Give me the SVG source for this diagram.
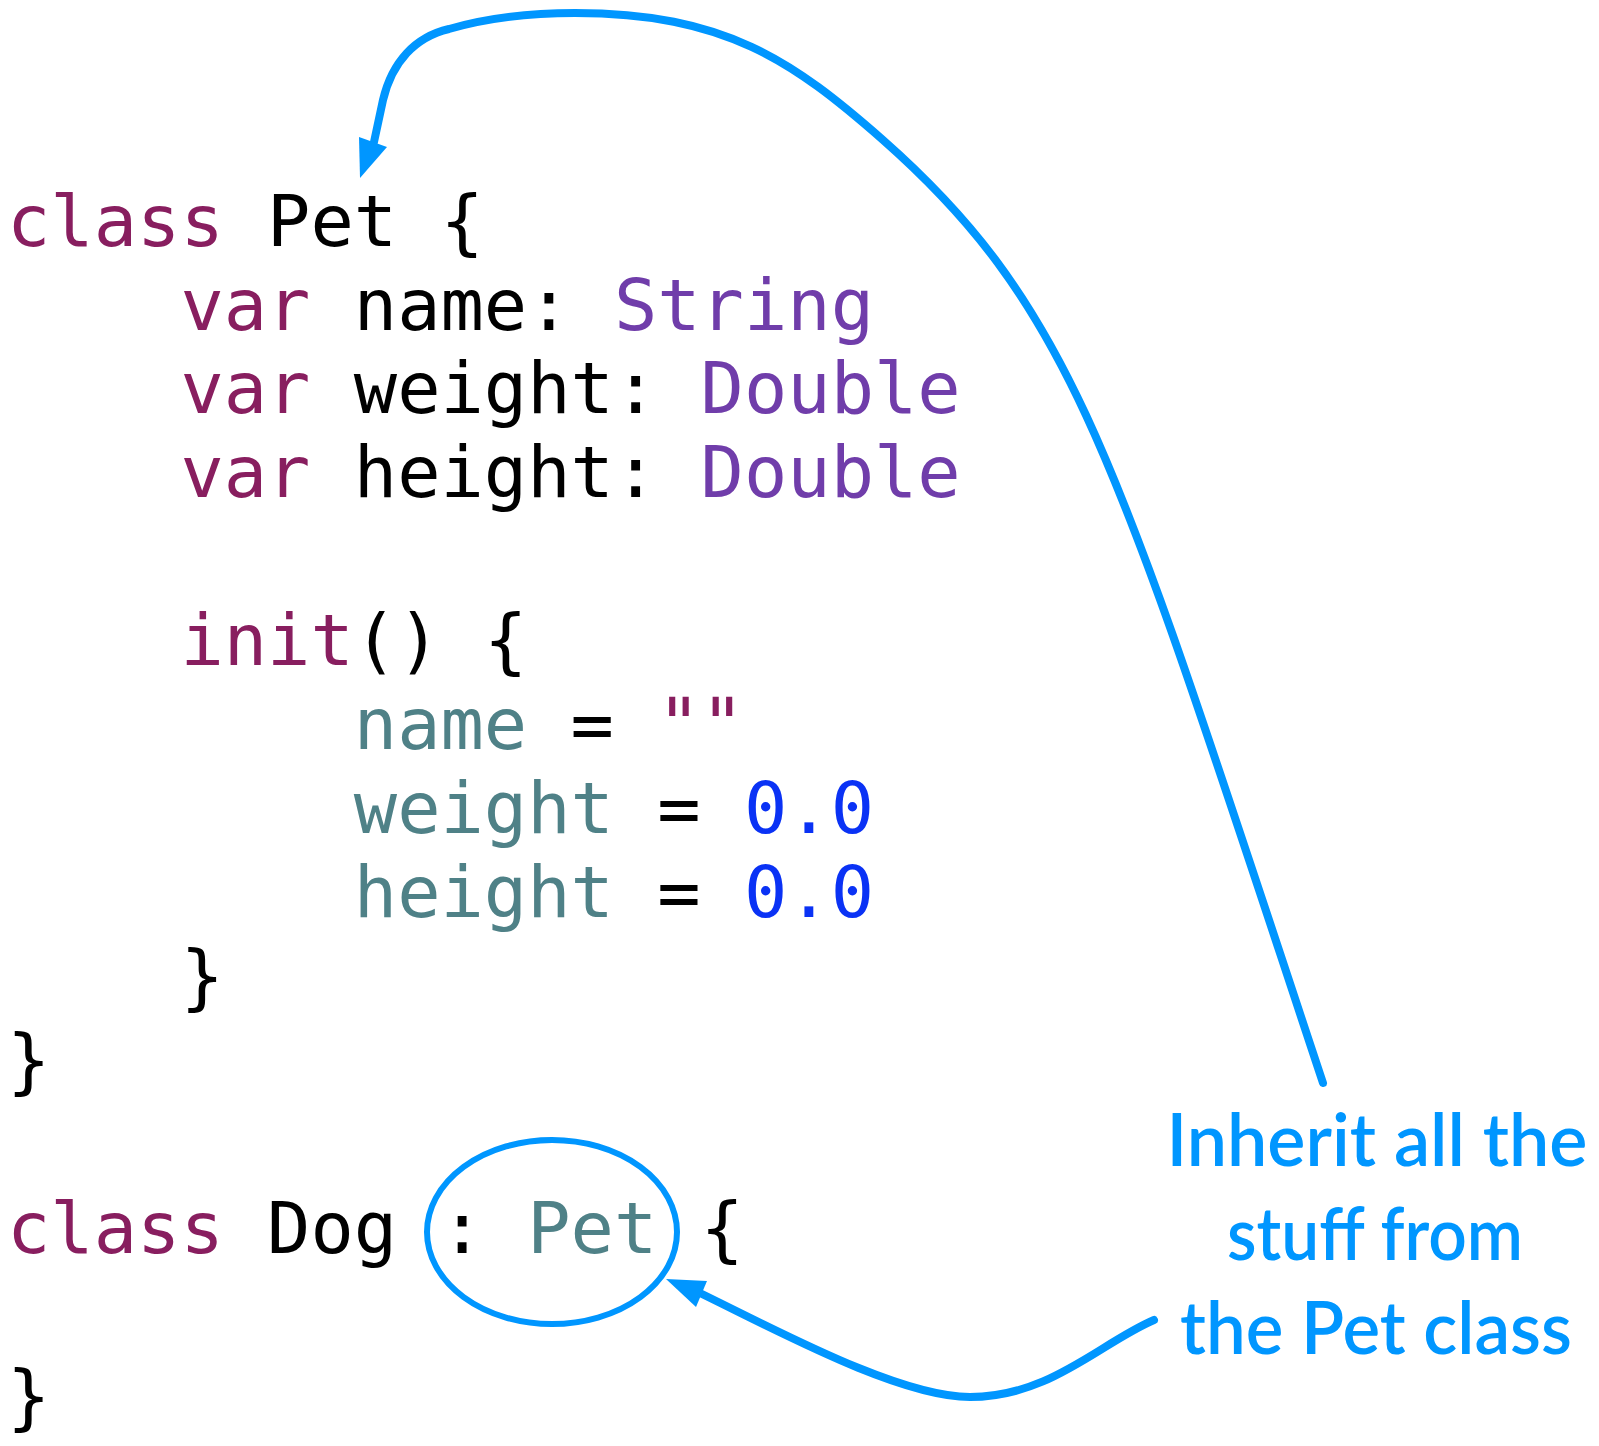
<svg xmlns="http://www.w3.org/2000/svg" width="1599" height="1446" viewBox="0 0 1599 1446">
<style>
.code{font-family:"DejaVu Sans Mono","Liberation Mono",monospace;font-size:72px}
.kw{fill:#881e5f}
.tx{fill:#000000}
.ty{fill:#703daa}
.pr{fill:#4f8187}
.nm{fill:#0a32f5}
.note{font-family:Lato,"Noto Sans","Liberation Sans",sans-serif;font-size:74px;font-weight:600;fill:#0096ff;text-anchor:middle}
.line{fill:none;stroke:#0096ff;stroke-width:8;stroke-linecap:round;stroke-linejoin:round}
.head{fill:#0096ff;stroke:none}
</style>
<rect width="1599" height="1446" fill="#ffffff"/>
<g id="pet-class" class="code">
<text x="7" y="246" class="kw">class</text><text x="267.1" y="246" class="tx">Pet</text><text x="440.5" y="246" class="tx">{</text>
<text x="180.4" y="330" class="kw">var</text><text x="353.8" y="330" class="tx">name:</text><text x="613.9" y="330" class="ty">String</text>
<text x="180.4" y="413" class="kw">var</text><text x="353.8" y="413" class="tx">weight:</text><text x="700.6" y="413" class="ty">Double</text>
<text x="180.4" y="497" class="kw">var</text><text x="353.8" y="497" class="tx">height:</text><text x="700.6" y="497" class="ty">Double</text>
<text x="180.4" y="665" class="kw">init</text><text x="353.8" y="665" class="tx">()</text><text x="483.9" y="665" class="tx">{</text>
<text x="353.8" y="749" class="pr">name</text><text x="570.6" y="749" class="tx">=</text><text x="657.3" y="749" class="kw">""</text>
<text x="353.8" y="833" class="pr">weight</text><text x="657.3" y="833" class="tx">=</text><text x="744" y="833" class="nm">0.0</text>
<text x="353.8" y="917" class="pr">height</text><text x="657.3" y="917" class="tx">=</text><text x="744" y="917" class="nm">0.0</text>
<text x="180.4" y="1001" class="tx">}</text>
<text x="7" y="1085" class="tx">}</text>
</g>
<g id="dog-class" class="code">
<text x="7" y="1253" class="kw">class</text><text x="267.1" y="1253" class="tx">Dog</text><text x="440.5" y="1253" class="tx">:</text><text x="527.2" y="1253" class="pr">Pet</text><text x="700.6" y="1253" class="tx">{</text>
<text x="7" y="1421" class="tx">}</text>
</g>
<g id="pet-highlight">
<ellipse cx="552" cy="1232" rx="125" ry="92" fill="none" stroke="#0096ff" stroke-width="6"/>
</g>
<g id="note">
<text class="note" x="1377" y="1166" textLength="421" lengthAdjust="spacingAndGlyphs">Inherit all the</text>
<text class="note" x="1375" y="1260" textLength="296" lengthAdjust="spacingAndGlyphs">stuff from</text>
<text class="note" x="1376" y="1354" textLength="392" lengthAdjust="spacingAndGlyphs">the Pet class</text>
</g>
<g id="connectors">
<path class="line" d="M1323 1083 C1118 466 1078 312 883 140 C793 61 725 13 575 13 C520 13 480 20 449 29 C415 37 392 62 383 100 L374 142"/>
<polygon class="head" points="360,178 359,137 387,147"/>
<path class="line" d="M1154 1320 C1100 1343 1050 1397 970 1397 C900 1397 780 1332 702 1294"/>
<polygon class="head" points="666,1279 707,1281 696,1307"/>
</g>
</svg>
